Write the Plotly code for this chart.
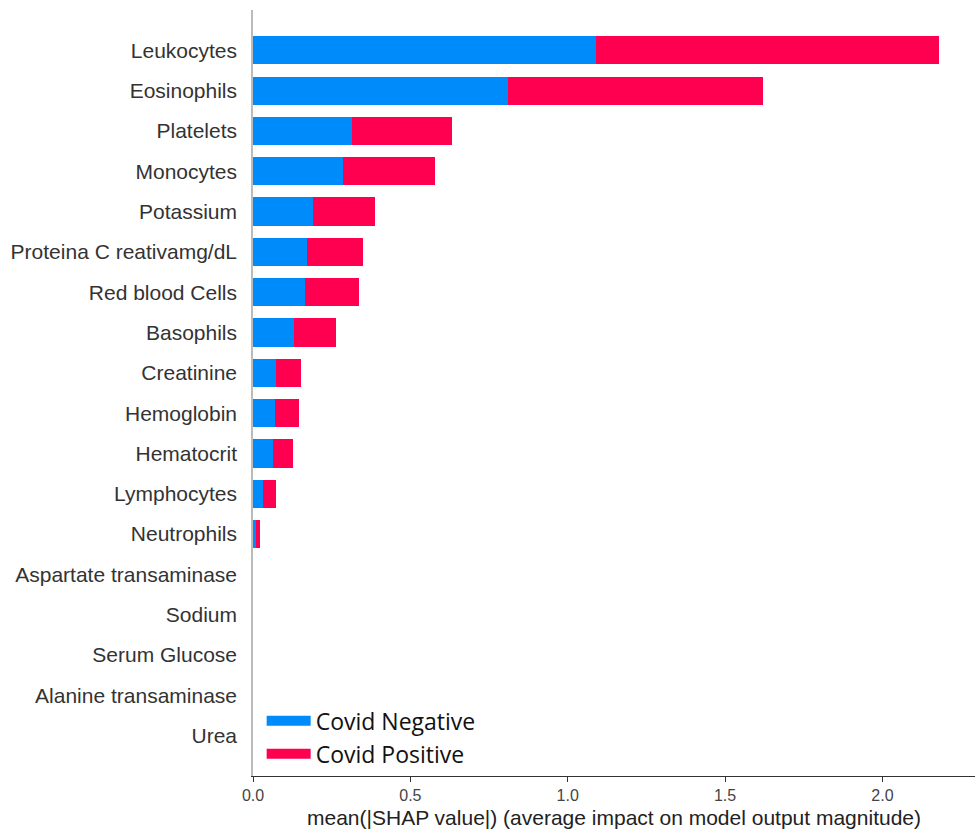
import plotly.graph_objects as go

features = ["Leukocytes", "Eosinophils", "Platelets", "Monocytes", "Potassium",
            "Proteina C reativamg/dL", "Red blood Cells", "Basophils", "Creatinine",
            "Hemoglobin", "Hematocrit", "Lymphocytes", "Neutrophils",
            "Aspartate transaminase", "Sodium", "Serum Glucose",
            "Alanine transaminase", "Urea"]
covid_negative = [1.090, 0.809, 0.315, 0.286, 0.192, 0.173, 0.166, 0.130, 0.074,
                  0.069, 0.062, 0.033, 0.011, 0.0, 0.0, 0.0, 0.0, 0.0]
covid_positive = [1.090, 0.811, 0.318, 0.291, 0.195, 0.178, 0.170, 0.134, 0.077,
                  0.077, 0.064, 0.041, 0.011, 0.0, 0.0, 0.0, 0.0, 0.0]
series_names = ["Covid Negative", "Covid Positive"]
x_ticks = [0.0, 0.5, 1.0, 1.5, 2.0]
x_title = "mean(|SHAP value|) (average impact on model output magnitude)"

BLUE = "#008BFB"
RED = "#FF0051"

fig = go.Figure()
fig.add_trace(go.Bar(y=features, x=covid_negative, orientation="h", name=series_names[0],
                     marker=dict(color=BLUE, line=dict(width=0)), showlegend=False, width=0.7))
fig.add_trace(go.Bar(y=features, x=covid_positive, orientation="h", name=series_names[1],
                     marker=dict(color=RED, line=dict(width=0)), showlegend=False, width=0.7))
# legend entries
for name, col in zip(series_names, [BLUE, RED]):
    fig.add_trace(go.Scatter(x=[None], y=[None], mode="lines", name=name,
                             line=dict(color=col, width=12), showlegend=True))

fig.update_layout(
    width=976, height=835,
    margin=dict(l=253, r=1, t=10, b=59),
    barmode="stack",
    plot_bgcolor="white", paper_bgcolor="white",
    font=dict(family="Liberation Sans, Arial, sans-serif", color="#333333"),
    legend=dict(x=0.012, y=0.1, xanchor="left", yanchor="top", traceorder="normal",
                font=dict(family="Open Sans", size=23, color="#111111"),
                bgcolor="rgba(0,0,0,0)", itemwidth=44, tracegroupgap=0),
    xaxis=dict(range=[0, 2.294], tickvals=x_ticks, ticktext=[f"{v:.1f}" for v in x_ticks],
               showgrid=False, zeroline=False, showline=True, linecolor="#333333", linewidth=1.3,
               ticks="outside", ticklen=5, tickcolor="#333333", tickwidth=1,
               tickfont=dict(size=16, color="#444444"),
               title=dict(text=x_title, font=dict(size=21, color="#222222"), standoff=6)),
    yaxis=dict(type="category", categoryorder="array", categoryarray=features[::-1],
               range=[-1, 18], showgrid=False, zeroline=False, showline=True,
               linecolor="#bbbbbb", linewidth=1.5, ticks="", ticklabelstandoff=10,
               tickfont=dict(size=21, color="#333333")),
)

fig.write_html("out.html")
